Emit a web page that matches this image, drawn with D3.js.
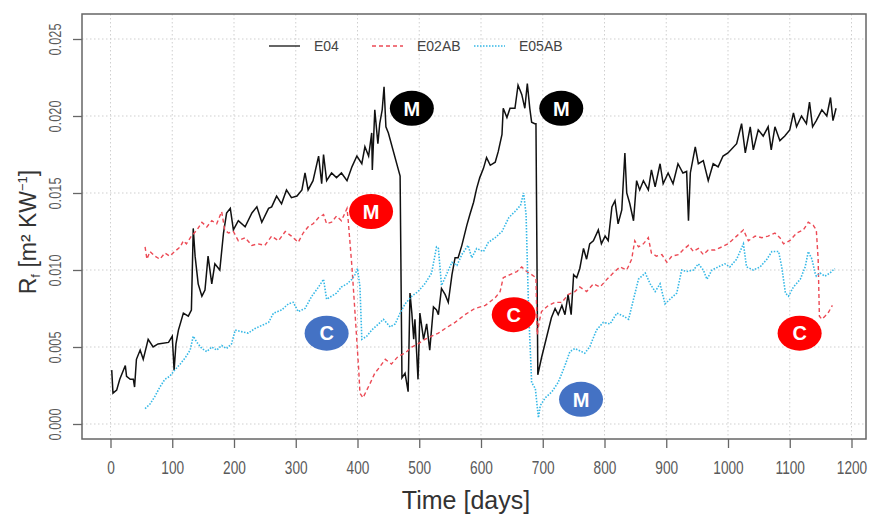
<!DOCTYPE html>
<html>
<head>
<meta charset="utf-8">
<script src="https://cdn.jsdelivr.net/npm/d3@7"></script>
<style>
  body { margin: 0; background: #fff; }
  svg { display: block; font-family: "Liberation Sans", Arial, sans-serif; }
</style>
</head>
<body>
<script>
// ticks
const xTicks = [0, 100, 200, 300, 400, 500, 600, 700, 800, 900, 1000, 1100, 1200];
const yTicks = [0, 0.005, 0.01, 0.015, 0.02, 0.025];
const yTickLabels = ["0.000", "0.005", "0.010", "0.015", "0.020", "0.025"];

// E04 (black, solid)
const e04Days = [2,4,10,15,24,26,32,37,39,42,48,53,61,69,77,94,100,103,106,110,118,126,131,134,137,142,148,153,158,164,169,177,183,188,194,199,207,218,229,237,245,256,261,269,277,285,293,302,310,315,320,328,337,342,345,350,358,366,374,383,391,399,407,412,418,423,424,428,433,436,440,443,446,450,469,472,477,482,485,488,491,493,498,501,507,512,517,523,528,531,536,542,547,553,558,563,569,577,582,588,593,598,604,609,615,623,628,634,636,642,647,655,660,666,671,675,679,682,687,689,692,698,706,714,720,725,731,736,741,746,750,755,760,766,771,776,782,790,795,801,806,812,817,822,828,833,836,841,847,852,857,863,871,876,882,890,895,903,911,919,927,933,936,939,947,952,960,968,976,984,992,1000,1014,1022,1028,1036,1041,1049,1057,1065,1070,1076,1084,1092,1100,1106,1111,1119,1127,1132,1137,1143,1152,1160,1166,1170,1175];
const e04Rf = [0.0035,0.0020,0.0022,0.0029,0.0038,0.0031,0.0029,0.0029,0.0024,0.0042,0.0048,0.0042,0.0055,0.0050,0.0052,0.0053,0.0057,0.0035,0.0052,0.0061,0.0072,0.0070,0.0074,0.0127,0.0109,0.0091,0.0083,0.0087,0.0109,0.0091,0.0104,0.0100,0.0124,0.0137,0.0140,0.0126,0.0132,0.0128,0.0137,0.0141,0.0131,0.0140,0.0141,0.0148,0.0143,0.0152,0.0147,0.0148,0.0152,0.0163,0.0152,0.0158,0.0174,0.0156,0.0175,0.0158,0.0163,0.0160,0.0163,0.0158,0.0167,0.0174,0.0169,0.0180,0.0174,0.0189,0.0165,0.0204,0.0182,0.0195,0.0204,0.0219,0.0193,0.0189,0.0161,0.0030,0.0033,0.0021,0.0085,0.0072,0.0055,0.0068,0.0029,0.0072,0.0055,0.0065,0.0048,0.0076,0.0074,0.0071,0.0088,0.0084,0.0079,0.0097,0.0108,0.0108,0.0116,0.0129,0.0136,0.0144,0.0153,0.0160,0.0166,0.0173,0.0168,0.0170,0.0177,0.0188,0.0205,0.0199,0.0205,0.0205,0.0220,0.0214,0.0205,0.0221,0.0205,0.0196,0.0195,0.0195,0.0032,0.0043,0.0056,0.0069,0.0075,0.0071,0.0077,0.0071,0.0084,0.0071,0.0097,0.0095,0.0101,0.0114,0.0107,0.0117,0.0119,0.0126,0.0117,0.0122,0.0119,0.0141,0.0145,0.0130,0.0139,0.0176,0.0150,0.0143,0.0132,0.0158,0.0152,0.0158,0.0152,0.0165,0.0154,0.0169,0.0156,0.0163,0.0156,0.0169,0.0163,0.0164,0.0132,0.0163,0.0180,0.0169,0.0171,0.0158,0.0169,0.0167,0.0174,0.0176,0.0182,0.0195,0.0176,0.0193,0.0178,0.0191,0.0187,0.0193,0.0178,0.0193,0.0184,0.0187,0.0191,0.0202,0.0193,0.0200,0.0195,0.0209,0.0193,0.0197,0.0204,0.0200,0.0212,0.0197,0.0205];

// E02AB (red, dashed)
const e02Days = [56,59,64,72,80,88,96,104,113,118,123,131,140,148,156,164,172,180,185,191,199,207,218,229,239,250,261,272,283,293,304,312,320,328,337,345,350,358,366,374,383,385,391,396,402,404,409,415,420,428,436,445,455,466,477,488,498,509,520,531,542,558,574,590,607,623,631,636,647,658,666,674,682,689,691,694,698,709,720,731,741,752,760,771,782,793,804,814,825,836,844,849,855,863,871,876,884,893,901,909,920,927,936,944,952,960,968,979,990,1000,1014,1025,1033,1044,1055,1065,1076,1084,1090,1100,1111,1122,1130,1138,1143,1146,1148,1152,1157,1162,1169];
const e02Rf = [0.0115,0.0107,0.0112,0.0109,0.0107,0.0111,0.0109,0.0112,0.0115,0.0119,0.0117,0.0122,0.0126,0.0131,0.0128,0.0132,0.0130,0.0138,0.0126,0.0124,0.0125,0.0119,0.0121,0.0116,0.0117,0.0116,0.0122,0.0119,0.0125,0.0122,0.0118,0.0124,0.0128,0.0130,0.0134,0.0136,0.0130,0.0131,0.0135,0.0132,0.0140,0.0132,0.0102,0.0072,0.0035,0.0020,0.0017,0.0022,0.0026,0.0033,0.0037,0.0042,0.0039,0.0044,0.0046,0.0050,0.0052,0.0055,0.0057,0.0059,0.0062,0.0066,0.0071,0.0075,0.0077,0.0082,0.0086,0.0095,0.0097,0.0099,0.0102,0.0099,0.0097,0.0095,0.0058,0.0066,0.0073,0.0077,0.0079,0.0079,0.0084,0.0086,0.0089,0.0086,0.0091,0.0089,0.0094,0.0098,0.0102,0.0100,0.0107,0.0119,0.0115,0.0117,0.0121,0.0111,0.0109,0.0110,0.0105,0.0109,0.0110,0.0113,0.0116,0.0112,0.0114,0.0110,0.0113,0.0113,0.0115,0.0117,0.0122,0.0126,0.0119,0.0122,0.0121,0.0122,0.0124,0.0121,0.0117,0.0119,0.0124,0.0126,0.0131,0.0129,0.0126,0.0107,0.0070,0.0068,0.0070,0.0072,0.0077];

// E05AB (cyan, dotted)
const e05Days = [56,64,72,80,88,96,104,113,121,129,134,140,148,156,164,172,180,188,196,202,212,223,234,245,256,264,277,288,296,304,315,326,337,345,350,358,366,374,383,391,396,400,404,407,415,423,434,442,453,461,469,477,488,498,509,520,528,531,536,544,553,561,569,579,585,593,604,612,623,634,645,655,664,669,673,677,682,688,693,696,704,715,725,736,744,752,763,768,776,787,798,809,820,831,839,847,855,866,874,882,890,898,906,917,925,933,944,952,960,966,974,984,995,1003,1014,1025,1030,1041,1052,1063,1071,1082,1087,1093,1098,1106,1117,1125,1130,1136,1141,1143,1149,1157,1165,1173];
const e05Rf = [0.0010,0.0013,0.0018,0.0024,0.0029,0.0031,0.0035,0.0039,0.0043,0.0048,0.0057,0.0053,0.0049,0.0047,0.0050,0.0048,0.0051,0.0049,0.0052,0.0061,0.0060,0.0059,0.0062,0.0064,0.0066,0.0072,0.0074,0.0078,0.0079,0.0073,0.0075,0.0083,0.0089,0.0094,0.0081,0.0083,0.0085,0.0089,0.0091,0.0094,0.0097,0.0101,0.0089,0.0055,0.0057,0.0061,0.0065,0.0068,0.0063,0.0065,0.0072,0.0078,0.0083,0.0086,0.0091,0.0098,0.0115,0.0114,0.0090,0.0097,0.0105,0.0103,0.0110,0.0116,0.0108,0.0114,0.0112,0.0118,0.0121,0.0125,0.0134,0.0138,0.0142,0.0150,0.0136,0.0075,0.0027,0.0023,0.0004,0.0012,0.0017,0.0021,0.0027,0.0038,0.0047,0.0049,0.0047,0.0046,0.0050,0.0061,0.0066,0.0065,0.0072,0.0070,0.0068,0.0081,0.0094,0.0098,0.0091,0.0086,0.0091,0.0078,0.0081,0.0085,0.0100,0.0099,0.0100,0.0104,0.0100,0.0094,0.0100,0.0102,0.0104,0.0102,0.0107,0.0117,0.0102,0.0100,0.0102,0.0107,0.0112,0.0112,0.0102,0.0085,0.0083,0.0089,0.0094,0.0102,0.0112,0.0107,0.0098,0.0096,0.0098,0.0096,0.0098,0.0101];

// event markers (M / C)
const markLabels = ["M", "M", "C", "M", "C", "M", "C"];
const markDays = [488, 422, 350, 730, 653, 762, 1116];
const markRf = [0.0205, 0.0138, 0.0059, 0.0205, 0.0071, 0.0016, 0.0059];
const markFill = ["#000000", "#ff0000", "#4472c4", "#000000", "#ff0000", "#4472c4", "#ff0000"];

const WIDTH = 869;
const HEIGHT = 518;
const box = { left: 82, top: 14, right: 866, bottom: 439 };

const svg = d3.select("body").append("svg")
  .attr("width", WIDTH)
  .attr("height", HEIGHT);

const x = d3.scaleLinear().domain([0, 1200]).range([110.5, 851.5]);
const y = d3.scaleLinear().domain([0, 0.025]).range([424, 39]);

// grid
const grid = svg.append("g")
  .attr("stroke", "#cfcfcf")
  .attr("stroke-width", 1)
  .attr("stroke-dasharray", "1.5,2.5");
grid.selectAll(".gx").data(xTicks).enter().append("line")
  .attr("x1", d => x(d)).attr("x2", d => x(d))
  .attr("y1", box.top).attr("y2", box.bottom);
grid.selectAll(".gy").data(yTicks).enter().append("line")
  .attr("x1", box.left).attr("x2", box.right)
  .attr("y1", d => y(d)).attr("y2", d => y(d));

// series
function series(days, vals) {
  return days.map((d, i) => [d, vals[i]]);
}
const line = d3.line().x(d => x(d[0])).y(d => y(d[1]));

svg.append("path")
  .datum(series(e04Days, e04Rf))
  .attr("d", line)
  .attr("fill", "none")
  .attr("stroke", "#111")
  .attr("stroke-width", 1.5);

svg.append("path")
  .datum(series(e02Days, e02Rf))
  .attr("d", line)
  .attr("fill", "none")
  .attr("stroke", "#ec4a55")
  .attr("stroke-width", 1.4)
  .attr("stroke-dasharray", "4,3");

svg.append("path")
  .datum(series(e05Days, e05Rf))
  .attr("d", line)
  .attr("fill", "none")
  .attr("stroke", "#35b8e6")
  .attr("stroke-width", 1.6)
  .attr("stroke-dasharray", "1.5,1.5");

// frame
svg.append("rect")
  .attr("x", box.left).attr("y", box.top)
  .attr("width", box.right - box.left).attr("height", box.bottom - box.top)
  .attr("fill", "none")
  .attr("stroke", "#666")
  .attr("stroke-width", 1.5);

// axes
const xAxis = svg.append("g")
  .attr("transform", `translate(0,${box.bottom})`)
  .call(d3.axisBottom(x).tickValues(xTicks).tickSize(9).tickFormat(d3.format("d")));
xAxis.select(".domain").remove();
xAxis.selectAll("line").attr("stroke", "#666").attr("stroke-width", 1.3);
xAxis.selectAll("text")
  .attr("y", 35).attr("dy", null)
  .attr("transform", "scale(0.76,1)")
  .attr("fill", "#5a5a5a")
  .attr("font-size", 18)
  .attr("font-family", "Liberation Sans, Arial, sans-serif");

const yAxis = svg.append("g")
  .attr("transform", `translate(${box.left},0)`)
  .call(d3.axisLeft(y).tickValues(yTicks).tickSize(9).tickFormat((d, i) => yTickLabels[i]));
yAxis.select(".domain").remove();
yAxis.selectAll("line").attr("stroke", "#666").attr("stroke-width", 1.3);
yAxis.selectAll("text")
  .attr("x", null).attr("dy", null)
  .attr("text-anchor", "middle")
  .attr("transform", "translate(-21,0) rotate(-90) scale(0.8,1)")
  .attr("fill", "#5a5a5a")
  .attr("font-size", 16)
  .attr("font-family", "Liberation Sans, Arial, sans-serif");

// axis titles
svg.append("text")
  .attr("x", 466).attr("y", 509)
  .attr("text-anchor", "middle")
  .attr("font-size", 25)
  .attr("fill", "#333")
  .text("Time [days]");

const yt = svg.append("text")
  .attr("transform", "translate(36,232) rotate(-90)")
  .attr("text-anchor", "middle")
  .attr("font-size", 23)
  .attr("fill", "#333");
yt.append("tspan").text("R");
yt.append("tspan").attr("font-size", 13).attr("dy", 4).text("f");
yt.append("tspan").attr("dy", -4).text(" [m² KW");
yt.append("tspan").attr("font-size", 13).attr("dy", -9).text("−1");
yt.append("tspan").attr("dy", 9).text("]");

// legend
const legendItems = [
  { name: "E04", color: "#111", dash: null, w: 1.3, x0: 269 },
  { name: "E02AB", color: "#ec4a55", dash: "4,3", w: 1.3, x0: 372 },
  { name: "E05AB", color: "#35b8e6", dash: "1.5,1.5", w: 1.5, x0: 474 }
];
const lg = svg.append("g").selectAll("g").data(legendItems).enter().append("g");
lg.append("line")
  .attr("x1", d => d.x0).attr("x2", d => d.x0 + 31)
  .attr("y1", 46).attr("y2", 46)
  .attr("stroke", d => d.color)
  .attr("stroke-width", d => d.w)
  .attr("stroke-dasharray", d => d.dash);
lg.append("text")
  .attr("x", d => d.x0 + 45).attr("y", 51)
  .attr("font-size", 14)
  .attr("fill", "#444")
  .text(d => d.name);

// markers
const mk = svg.append("g").selectAll("g")
  .data(markLabels.map((t, i) => ({ t, day: markDays[i], v: markRf[i], fill: markFill[i] })))
  .enter().append("g")
  .attr("transform", d => `translate(${x(d.day)},${y(d.v)})`);
mk.append("ellipse")
  .attr("rx", 22).attr("ry", 17.5)
  .attr("fill", d => d.fill);
mk.append("text")
  .attr("text-anchor", "middle")
  .attr("dy", "0.36em")
  .attr("font-size", 20)
  .attr("font-weight", "bold")
  .attr("fill", "#fff")
  .text(d => d.t);
</script>
</body>
</html>
